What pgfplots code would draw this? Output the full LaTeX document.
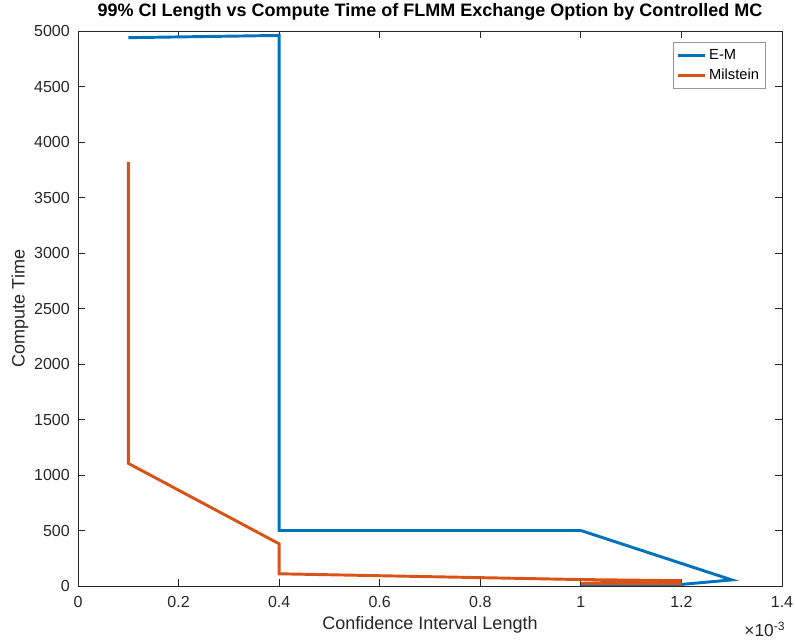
\documentclass[border=0pt]{standalone}
\usepackage{fontspec}
\setmainfont{Liberation Sans}
\usepackage{pgfplots}
\pgfplotsset{compat=1.18}

\definecolor{mblue}{rgb}{0,0.447,0.741}
\definecolor{morange}{rgb}{0.85,0.325,0.098}
\definecolor{axgray}{rgb}{0.15,0.15,0.15}

\begin{document}
\begin{tikzpicture}
% fixed page frame around the axis
\path[use as bounding box] (-58.5pt,-39.75pt) rectangle (537.75pt,439.5pt);
\begin{axis}[
  at={(0pt,0pt)}, anchor=south west,
  scale only axis, width=528pt, height=416.25pt,
  xmin=0, xmax=0.0014, ymin=0, ymax=5000,
  xtick={0,0.0002,0.0004,0.0006,0.0008,0.001,0.0012,0.0014},
  xticklabels={0,0.2,0.4,0.6,0.8,1,1.2,1.4},
  ytick={0,500,1000,1500,2000,2500,3000,3500,4000,4500,5000},
  scaled x ticks=false,
  scaled y ticks=false,
  clip mode=individual,
  /pgf/number format/1000 sep={},
  /pgf/number format/assume math mode=true,
  tick align=inside, tick pos=both,
  major tick length=5.25pt,
  axis line style={axgray, line width=0.6pt},
  every tick/.style={axgray, line width=0.6pt},
  tick label style={font=\fontsize{12}{14}\selectfont, text=axgray, inner sep=0pt},
  xticklabel style={yshift=-7.5pt},
  yticklabel style={xshift=-6pt},
  xlabel={Confidence Interval Length},
  ylabel={Compute Time},
  label style={font=\fontsize{13.5}{16}\selectfont, text=axgray},
  xlabel style={at={(axis description cs:0.5,-0.0703)}, anchor=center},
  ylabel style={at={(axis description cs:-0.0824,0.5)}, anchor=center, rotate=0},
  title={99\% CI Length vs Compute Time of FLMM Exchange Option by Controlled MC},
  title style={font=\bfseries\fontsize{13.5}{16}\selectfont, at={(axis description cs:0.5,1.0)}, anchor=base, yshift=5pt},
  legend style={at={(rel axis cs:1,1)}, anchor=north east, xshift=-12pt, yshift=-8.25pt,
    font=\fontsize{11}{13}\selectfont, draw={rgb,255:red,150;green,150;blue,150}, line width=0.6pt,
    inner xsep=3pt, inner ysep=3pt, row sep=2pt, cells={anchor=west}},
  legend image code/.code={\draw[#1, line width=2.2pt] (0pt,0pt) -- (20pt,0pt);},
  line join=miter,
]
\addplot[mblue, line width=2.2pt] coordinates {
  (0.0001,4940) (0.0004,4960) (0.0004,500) (0.001,500) (0.0013,55) (0.0012,14) (0.001,12)
};
\addlegendentry{E-M}
\addplot[morange, line width=2.2pt] coordinates {
  (0.0001,3820) (0.0001,1105) (0.0004,380) (0.0004,110) (0.001,58) (0.0012,48) (0.001,22) (0.0012,20)
};
\addlegendentry{Milstein}
% exponent of the x tick values
\node[anchor=east, font=\fontsize{13}{15}\selectfont, text=axgray, inner sep=0pt] at (axis description cs:1.005,-0.078) {×10\textsuperscript{-3}};
\end{axis}
\end{tikzpicture}
\end{document}
